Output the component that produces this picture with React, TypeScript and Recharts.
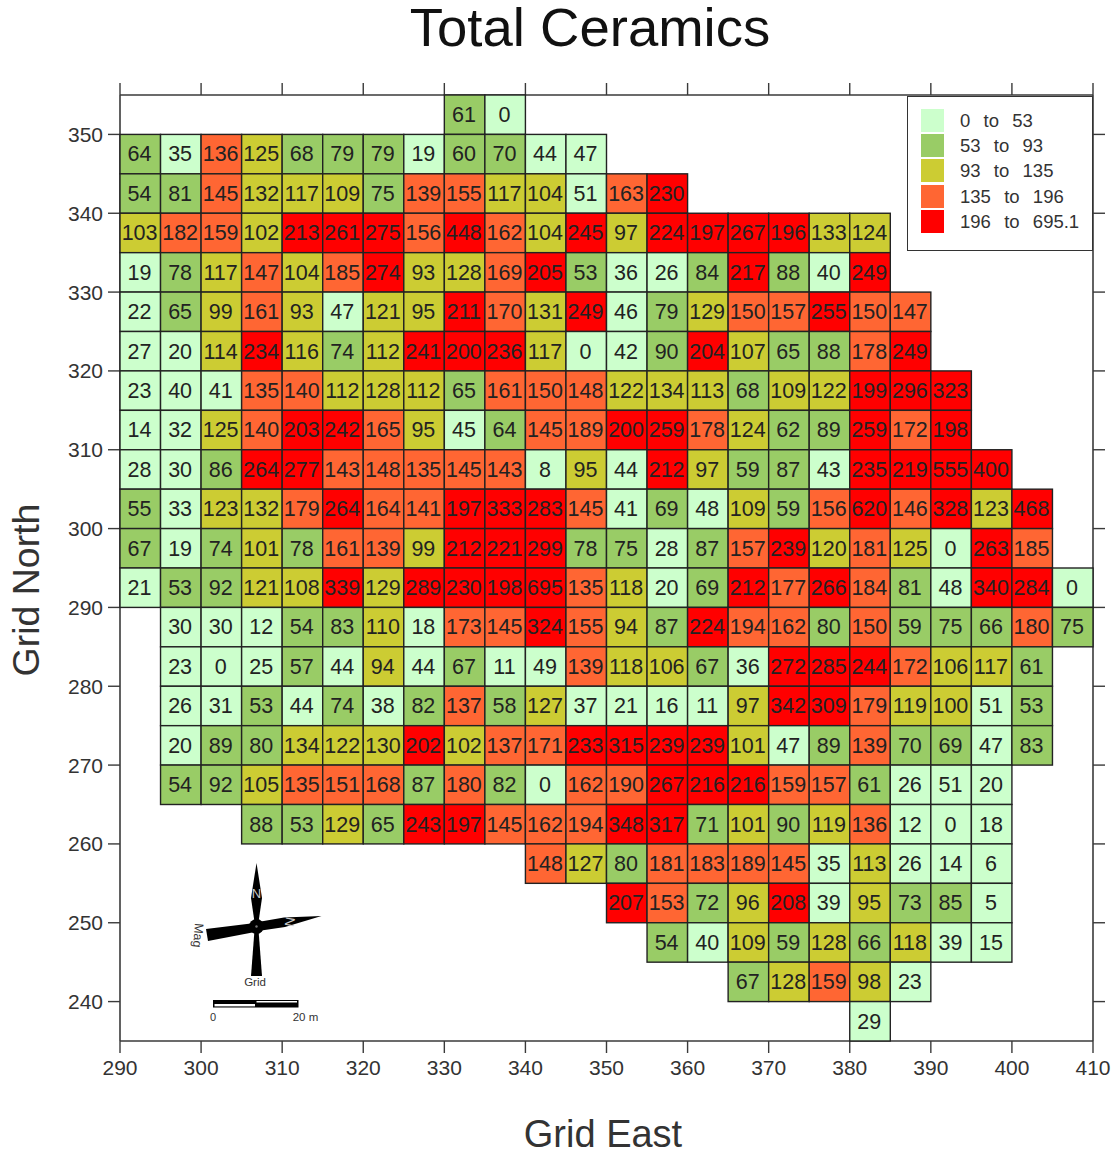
import { ScatterChart, Scatter, XAxis, YAxis, Legend } from 'recharts'

const FONT = '"Liberation Sans", Arial, sans-serif'

// class limits and colours, low to high
const classLimits = [53, 93, 135, 196]
const classColors = ['#CCFFCC', '#99CC66', '#CCCC33', '#FF6633', '#FF0000']
const legendLabels = ['0  to  53', '53  to  93', '93  to  135', '135  to  196', '196  to  695.1']

const eastTicks = [290, 300, 310, 320, 330, 340, 350, 360, 370, 380, 390, 400, 410]
const northTicks = [240, 250, 260, 270, 280, 290, 300, 310, 320, 330, 340, 350]

// each row: values running east, row named by its south edge
const row350 = [61, 0]
const row345 = [64, 35, 136, 125, 68, 79, 79, 19, 60, 70, 44, 47]
const row340 = [54, 81, 145, 132, 117, 109, 75, 139, 155, 117, 104, 51, 163, 230]
const row335 = [103, 182, 159, 102, 213, 261, 275, 156, 448, 162, 104, 245, 97, 224, 197, 267, 196, 133, 124]
const row330 = [19, 78, 117, 147, 104, 185, 274, 93, 128, 169, 205, 53, 36, 26, 84, 217, 88, 40, 249]
const row325 = [22, 65, 99, 161, 93, 47, 121, 95, 211, 170, 131, 249, 46, 79, 129, 150, 157, 255, 150, 147]
const row320 = [27, 20, 114, 234, 116, 74, 112, 241, 200, 236, 117, 0, 42, 90, 204, 107, 65, 88, 178, 249]
const row315 = [23, 40, 41, 135, 140, 112, 128, 112, 65, 161, 150, 148, 122, 134, 113, 68, 109, 122, 199, 296, 323]
const row310 = [14, 32, 125, 140, 203, 242, 165, 95, 45, 64, 145, 189, 200, 259, 178, 124, 62, 89, 259, 172, 198]
const row305 = [28, 30, 86, 264, 277, 143, 148, 135, 145, 143, 8, 95, 44, 212, 97, 59, 87, 43, 235, 219, 555, 400]
const row300 = [55, 33, 123, 132, 179, 264, 164, 141, 197, 333, 283, 145, 41, 69, 48, 109, 59, 156, 620, 146, 328, 123, 468]
const row295 = [67, 19, 74, 101, 78, 161, 139, 99, 212, 221, 299, 78, 75, 28, 87, 157, 239, 120, 181, 125, 0, 263, 185]
const row290 = [21, 53, 92, 121, 108, 339, 129, 289, 230, 198, 695, 135, 118, 20, 69, 212, 177, 266, 184, 81, 48, 340, 284, 0]
const row285 = [30, 30, 12, 54, 83, 110, 18, 173, 145, 324, 155, 94, 87, 224, 194, 162, 80, 150, 59, 75, 66, 180, 75]
const row280 = [23, 0, 25, 57, 44, 94, 44, 67, 11, 49, 139, 118, 106, 67, 36, 272, 285, 244, 172, 106, 117, 61]
const row275 = [26, 31, 53, 44, 74, 38, 82, 137, 58, 127, 37, 21, 16, 11, 97, 342, 309, 179, 119, 100, 51, 53]
const row270 = [20, 89, 80, 134, 122, 130, 202, 102, 137, 171, 233, 315, 239, 239, 101, 47, 89, 139, 70, 69, 47, 83]
const row265 = [54, 92, 105, 135, 151, 168, 87, 180, 82, 0, 162, 190, 267, 216, 216, 159, 157, 61, 26, 51, 20]
const row260 = [88, 53, 129, 65, 243, 197, 145, 162, 194, 348, 317, 71, 101, 90, 119, 136, 12, 0, 18]
const row255 = [148, 127, 80, 181, 183, 189, 145, 35, 113, 26, 14, 6]
const row250 = [207, 153, 72, 96, 208, 39, 95, 73, 85, 5]
const row245 = [54, 40, 109, 59, 128, 66, 118, 39, 15]
const row240 = [67, 128, 159, 98, 23]
const row235 = [29]

// [south edge, west edge of first cell, values]
const rows: [number, number, number[]][] = [
  [350, 330, row350],
  [345, 290, row345],
  [340, 290, row340],
  [335, 290, row335],
  [330, 290, row330],
  [325, 290, row325],
  [320, 290, row320],
  [315, 290, row315],
  [310, 290, row310],
  [305, 290, row305],
  [300, 290, row300],
  [295, 290, row295],
  [290, 290, row290],
  [285, 295, row285],
  [280, 295, row280],
  [275, 295, row275],
  [270, 295, row270],
  [265, 295, row265],
  [260, 305, row260],
  [255, 340, row255],
  [250, 350, row250],
  [245, 355, row245],
  [240, 365, row240],
  [235, 380, row235],
]

const cells = rows.flatMap(([north, east, values]) =>
  values.map((value, i) => ({ east: east + 2.5 + i * 5, north: north + 2.5, value }))
)

const colorFor = (v: number) => {
  const i = classLimits.findIndex((limit) => v < limit)
  return classColors[i === -1 ? classColors.length - 1 : i]
}

// one 5 x 5 m square, in pixels for this fixed chart size
const CELL_W = 973 / 24
const CELL_H = 946 / 24

const CellShape = (props: any) => {
  const { cx, cy, payload } = props
  return (
    <g>
      <rect
        x={cx - CELL_W / 2}
        y={cy - CELL_H / 2}
        width={CELL_W}
        height={CELL_H}
        fill={colorFor(payload.value)}
        stroke="#222"
        strokeWidth={1.4}
      />
      <text x={cx - 0.7} y={cy + 7.3} textAnchor="middle" fontSize={21.5} fill="#222" fontFamily={FONT}>
        {payload.value}
      </text>
    </g>
  )
}

const LegendBox = () => (
  <div style={{ position: 'relative', width: 186, height: 154.5, boxSizing: 'border-box', background: '#fff', border: '1.5px solid #333', fontFamily: FONT }}>
    {legendLabels.map((label, i) => (
      <div key={label}>
        <div style={{ position: 'absolute', left: 13, top: 12 + i * 25.2, width: 23, height: 23, background: classColors[i] }} />
        <div style={{ position: 'absolute', left: 52, top: 13 + i * 25.2, fontSize: 18.5, wordSpacing: 1.5, lineHeight: '22px', color: '#333', whiteSpace: 'pre' }}>
          {label}
        </div>
      </div>
    ))}
  </div>
)

const NorthArrow = () => (
  <g fontFamily={FONT}>
    <polygon points="256.5,863 262,898 258.5,922 254.5,922 251,898" fill="#000" />
    <polygon points="251,976 262,976 258.5,930 254.5,930" fill="#000" />
    <polygon points="321.5,916 285,927 258,931 258,922 284,917.5" fill="#000" />
    <polygon points="206,929 208,941 255,932 255,923" fill="#000" />
    <circle cx={256.5} cy={926.5} r={7.5} fill="#000" />
    <circle cx={256.5} cy={926.5} r={1.2} fill="#777" />
    <text x={256.5} y={898} textAnchor="middle" fontSize={13} fill="#ccc">N</text>
    <text x={0} y={0} textAnchor="middle" fontSize={13} fill="#ccc" transform="translate(285.5,921) rotate(100)">N</text>
    <text x={0} y={0} textAnchor="middle" fontSize={12.5} fill="#333" transform="translate(194,935) rotate(95)">Mag</text>
    <text x={255} y={986} textAnchor="middle" fontSize={11.5} fill="#333">Grid</text>
    <rect x={213} y={1000} width={85.5} height={7.5} fill="#000" />
    <rect x={214.5} y={1004} width={40.5} height={2.4} fill="#fff" />
    <rect x={256.5} y={1001} width={40.5} height={1.5} fill="#fff" />
    <text x={213} y={1021} textAnchor="middle" fontSize={11} fill="#333">0</text>
    <text x={305.5} y={1021} textAnchor="middle" fontSize={11.5} fill="#333">20 m</text>
  </g>
)

const axisLine = { stroke: '#3a3a3a', strokeWidth: 1.6 }
const tickLine = { stroke: '#3a3a3a', strokeWidth: 1.4 }
const tickStyle = { fontSize: 21, fill: '#333', fontFamily: FONT }
const noLabel = () => <g />
const noMark = () => null

export default function App() {
  return (
    <div style={{ position: 'absolute', left: 0, top: 0, width: 1114, height: 1153, background: '#fff' }}>
      <ScatterChart width={1114} height={1153} margin={{ top: 83, right: 9, bottom: 72, left: 60 }}>
        <XAxis
          xAxisId="east"
          dataKey="east"
          type="number"
          domain={[290, 410]}
          ticks={eastTicks}
          interval={0}
          height={40}
          tickSize={12}
          tickMargin={7}
          tick={tickStyle}
          axisLine={axisLine}
          tickLine={tickLine}
        />
        <XAxis
          xAxisId="top"
          dataKey="east"
          orientation="top"
          type="number"
          domain={[290, 410]}
          ticks={eastTicks}
          interval={0}
          height={12}
          tickSize={12}
          tick={noLabel}
          axisLine={axisLine}
          tickLine={tickLine}
        />
        <YAxis
          yAxisId="north"
          dataKey="north"
          type="number"
          domain={[235, 355]}
          ticks={northTicks}
          interval={0}
          width={60}
          tickSize={12}
          tickMargin={5}
          tick={tickStyle}
          axisLine={axisLine}
          tickLine={tickLine}
        />
        <YAxis
          yAxisId="right"
          dataKey="north"
          orientation="right"
          type="number"
          domain={[235, 355]}
          ticks={northTicks}
          interval={0}
          width={12}
          tickSize={12}
          tick={noLabel}
          axisLine={axisLine}
          tickLine={tickLine}
        />
        {/* same cells on the top and right axes, so those axes get their ticks */}
        <Scatter
          data={cells}
          xAxisId="top"
          yAxisId="right"
          shape={noMark}
          isAnimationActive={false}
        />
        <Scatter
          data={cells}
          xAxisId="east"
          yAxisId="north"
          shape={CellShape}
          isAnimationActive={false}
        />
        <Legend
          layout="vertical"
          align="center"
          verticalAlign="middle"
          content={LegendBox}
          wrapperStyle={{ left: 907, top: 96, right: 'auto', bottom: 'auto', width: 186, transform: 'none' }}
        />
        <text x={590} y={46} textAnchor="middle" fontSize={54.5} fill="#111" fontFamily={FONT}>Total Ceramics</text>
        <text x={603} y={1147} textAnchor="middle" fontSize={38} fill="#333" fontFamily={FONT}>Grid East</text>
        <text x={0} y={0} textAnchor="middle" fontSize={37.5} fill="#333" fontFamily={FONT} transform="translate(39,590) rotate(-90)">Grid North</text>
        <NorthArrow />
      </ScatterChart>
    </div>
  )
}
